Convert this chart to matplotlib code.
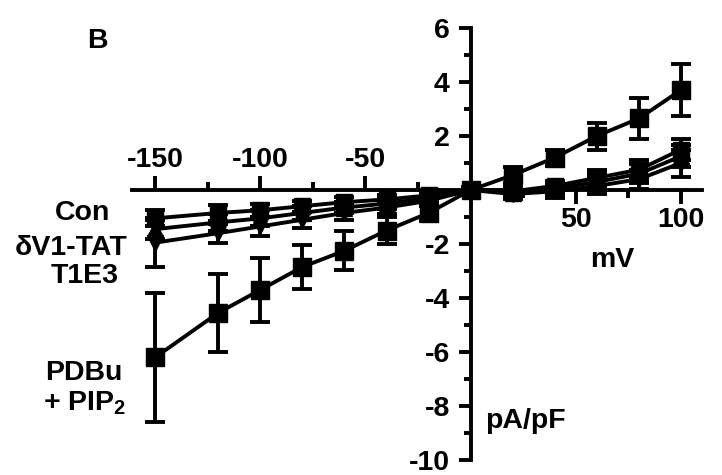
import numpy as np
import matplotlib.pyplot as plt

plt.rcParams['font.family'] = ['Liberation Sans', 'DejaVu Sans']
plt.rcParams['font.weight'] = 'bold'
plt.rcParams['axes.unicode_minus'] = False
plt.rcParams['mathtext.fontset'] = 'custom'
plt.rcParams['mathtext.bf'] = 'Liberation Sans:bold'
plt.rcParams['mathtext.rm'] = 'Liberation Sans:bold'

# membrane potential (mV)
mv = [-150, -120, -100, -80, -60, -40, -20, 0, 20, 40, 60, 80, 100]

# current density (pA/pF), mean and error
con = [-1.05, -0.85, -0.75, -0.6, -0.45, -0.35, -0.2, 0, -0.05, 0.15, 0.45, 0.75, 1.5]
con_err = [0.3, 0.3, 0.25, 0.2, 0.2, 0.15, 0.1, 0.05, 0.15, 0.2, 0.3, 0.35, 0.4]
dv1 = [-1.45, -1.2, -1.05, -0.85, -0.65, -0.5, -0.3, 0, -0.1, 0.05, 0.3, 0.6, 1.25]
dv1_err = [0.35, 0.3, 0.3, 0.25, 0.2, 0.2, 0.15, 0.05, 0.15, 0.2, 0.3, 0.35, 0.4]
t1e3 = [-1.95, -1.6, -1.35, -1.1, -0.85, -0.65, -0.4, 0, -0.15, -0.05, 0.15, 0.4, 1.0]
t1e3_err = [0.9, 0.35, 0.35, 0.3, 0.25, 0.25, 0.2, 0.05, 0.2, 0.25, 0.3, 0.35, 0.5]
pdbu = [-6.2, -4.55, -3.7, -2.85, -2.25, -1.5, -0.85, 0, 0.55, 1.2, 2.0, 2.65, 3.7]
pdbu_err = [2.4, 1.45, 1.2, 0.8, 0.72, 0.5, 0.3, 0.1, 0.3, 0.3, 0.5, 0.75, 0.95]

xmajor = [-150, -100, -50, 50, 100]
xminor = [-125, -75, -25, 25, 75]
ymajor = [-10, -8, -6, -4, -2, 2, 4, 6]
yminor = [-9, -7, -5, -3, -1, 1, 3, 5]

W, H = 722, 475
fig = plt.figure(figsize=(W / 100, H / 100), dpi=100)
ax = fig.add_axes([132 / W, 15 / H, 570 / W, 432 / H])
ax.set_xlim(-161, 110)
ax.set_ylim(-10, 6)
ax.patch.set_visible(False)

lw = 2.8
for s in ['left', 'bottom', 'top']:
    ax.spines[s].set_position(('data', 0))
    ax.spines[s].set_linewidth(lw)
ax.spines['right'].set_visible(False)
ax.spines['top'].set_visible(False)

fs = 20.5
ax.set_xticks(xmajor)
ax.set_xticks(xminor, minor=True)
ax.xaxis.set_ticks_position('both')
ax.tick_params(axis='x', which='both', direction='out', width=lw,
               labeltop=True, labelbottom=True, labelsize=fs, pad=2)
ax.tick_params(axis='x', which='major', length=10)
ax.tick_params(axis='x', which='minor', length=6)
for tick, v in zip(ax.xaxis.get_major_ticks(), xmajor):
    neg = v < 0
    tick.tick1line.set_visible(not neg)
    tick.label1.set_visible(not neg)
    tick.tick2line.set_visible(neg)
    tick.label2.set_visible(neg)
for tick, v in zip(ax.xaxis.get_minor_ticks(), xminor):
    neg = v < 0
    tick.tick1line.set_visible(not neg)
    tick.tick2line.set_visible(neg)

ax.set_yticks(ymajor)
ax.set_yticks(yminor, minor=True)
ax.yaxis.set_ticks_position('left')
ax.tick_params(axis='y', which='both', direction='out', width=lw, labelsize=fs, pad=6)
ax.tick_params(axis='y', which='major', length=9)
ax.tick_params(axis='y', which='minor', length=5)

series = [
    (con, con_err, 's', 11),
    (dv1, dv1_err, '^', 12),
    (t1e3, t1e3_err, 'v', 12),
    (pdbu, pdbu_err, 's', 13),
]
for vals, err, mk, ms in series:
    ax.errorbar(mv, vals, yerr=err, color='black', marker=mk, ms=ms, lw=lw,
                elinewidth=lw, capsize=7, capthick=lw, clip_on=False, zorder=3)


def ftext(x, y, s, size=fs):
    fig.text(x / W, 1 - y / H, s, ha='center', va='baseline', fontsize=size,
             fontweight='bold')


ftext(97, 48, 'B')
ftext(83, 220, 'Con')
ftext(71, 255, 'δV1-TAT')
ftext(85, 283, 'T1E3')
ftext(84, 380, 'PDBu')
ftext(85, 410, r'+ PIP$_\mathbf{2}$')
ftext(612, 267, 'mV')
ftext(525, 428, 'pA/pF')

fig.savefig('out.png', dpi=100)
